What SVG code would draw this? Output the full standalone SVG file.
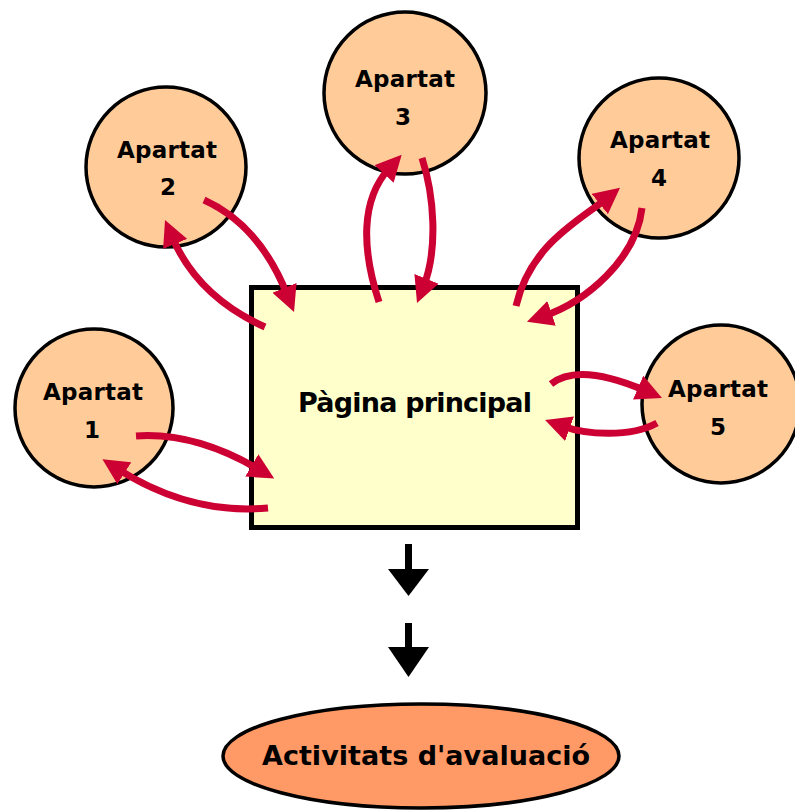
<svg xmlns="http://www.w3.org/2000/svg" width="795" height="811" viewBox="0 0 795 811">
  <style>
    .circ { fill: #FFCC99; stroke: #000; stroke-width: 3.5; }
    .lbl { font-family: "DejaVu Sans", "Liberation Sans", sans-serif; font-weight: bold; fill: #000; text-anchor: middle; }
    .ctext { font-size: 23px; }
    .link { fill: none; stroke: #CC0033; stroke-width: 7; marker-end: url(#head); }
  </style>
  <defs>
    <marker id="head" markerUnits="userSpaceOnUse" viewBox="0 0 26 26" markerWidth="26" markerHeight="26" refX="8" refY="13" orient="auto">
      <path d="M0,0 L26,13 L0,26 Z" fill="#CC0033"/>
    </marker>
  </defs>
  <rect width="795" height="811" fill="#fff"/>

  <g id="pagina-principal">
    <rect x="251.5" y="287.5" width="326" height="240" fill="#FFFFCC" stroke="#000" stroke-width="5"/>
    <text class="lbl" x="415" y="412" font-size="27" textLength="234" lengthAdjust="spacing">Pàgina principal</text>
  </g>

  <g id="apartat-1">
    <circle class="circ" cx="94" cy="408" r="79"/>
    <text class="lbl ctext" x="93" y="400" textLength="100" lengthAdjust="spacing">Apartat</text>
    <text class="lbl ctext" x="92" y="438">1</text>
  </g>
  <g id="apartat-2">
    <circle class="circ" cx="166" cy="167" r="80"/>
    <text class="lbl ctext" x="167" y="158" textLength="100" lengthAdjust="spacing">Apartat</text>
    <text class="lbl ctext" x="168" y="195">2</text>
  </g>
  <g id="apartat-3">
    <circle class="circ" cx="405" cy="93" r="81"/>
    <text class="lbl ctext" x="405" y="87" textLength="100" lengthAdjust="spacing">Apartat</text>
    <text class="lbl ctext" x="403" y="125">3</text>
  </g>
  <g id="apartat-4">
    <circle class="circ" cx="659" cy="158" r="80"/>
    <text class="lbl ctext" x="660" y="148" textLength="100" lengthAdjust="spacing">Apartat</text>
    <text class="lbl ctext" x="659" y="186">4</text>
  </g>
  <g id="apartat-5">
    <circle class="circ" cx="721" cy="404" r="79"/>
    <text class="lbl ctext" x="718" y="397" textLength="100" lengthAdjust="spacing">Apartat</text>
    <text class="lbl ctext" x="718" y="435">5</text>
  </g>

  <g id="activitats">
    <ellipse cx="421" cy="756" rx="198" ry="52" fill="#FF9966" stroke="#000" stroke-width="3.5"/>
    <text class="lbl" x="426" y="765" font-size="27" textLength="328" lengthAdjust="spacing">Activitats d'avaluació</text>
  </g>

  <g id="connectors">
    <path class="link" d="M136,436 Q195,432 258.7,469.4"/>
    <path class="link" d="M268,508 Q190,515 117.6,468.9"/>
    <path class="link" d="M204,200 Q259.6,225 287.4,295.3"/>
    <path class="link" d="M265,327 Q197.3,296.5 172,236.6"/>
    <path class="link" d="M379,302 C362,250 360,200 389.5,168"/>
    <path class="link" d="M422,158 C434,195 438.3,249 423.6,286.3"/>
    <path class="link" d="M516,306 C530,245 578.7,220.9 606,199"/>
    <path class="link" d="M642,208 C636,260 585,302 544,316"/>
    <path class="link" d="M551,384 C575,365 618,379 645.5,390.8"/>
    <path class="link" d="M657,423 C630,438 585.5,434.5 562,426"/>
    <g id="down-arrows" fill="#000">
      <rect x="405" y="544" width="7" height="27"/>
      <polygon points="388,569 429,569 408.5,596"/>
      <rect x="405" y="623" width="7" height="26"/>
      <polygon points="388,647 429,647 408.5,677"/>
    </g>
  </g>
</svg>
